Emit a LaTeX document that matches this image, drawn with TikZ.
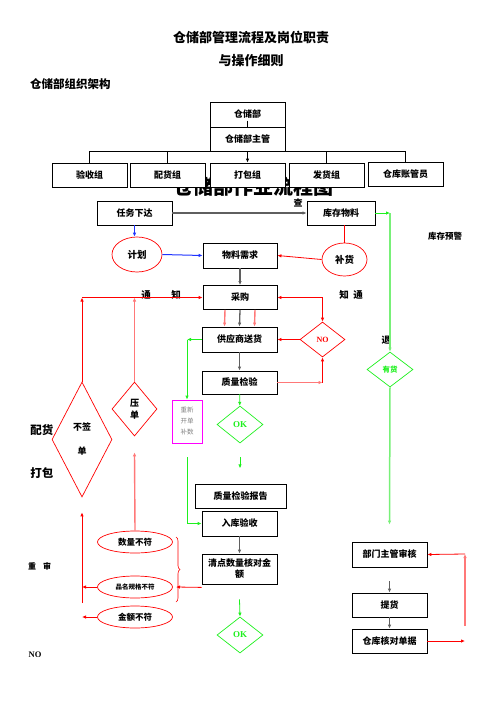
\documentclass[tikz,border=0pt]{standalone}
\usepackage{fontspec}
\setmainfont{Noto Sans CJK SC}
\newfontfamily\latinserif{Liberation Serif}
\usepackage{xcolor}
\usepackage{tikz}
\definecolor{flowred}{RGB}{255,0,0}
\definecolor{flowpink}{RGB}{255,120,120}
\definecolor{flowgreen}{RGB}{30,240,30}
\definecolor{stockgreen}{RGB}{120,240,120}
\definecolor{flowgray}{RGB}{95,95,95}
\definecolor{flowblue}{RGB}{30,50,255}
\definecolor{flowmagenta}{RGB}{255,0,255}
\usetikzlibrary{shapes.geometric,arrows.meta,decorations.pathreplacing}

\tikzset{
  >={Latex[length=4pt,width=3.5pt]},
  box/.style={draw, line width=0.8pt, fill=white, minimum width=75pt, minimum height=24pt,
    inner sep=0pt, font=\bfseries\fontsize{9}{11}\selectfont},
  oval/.style={ellipse, draw=flowred, line width=0.7pt, fill=white, minimum width=75pt,
    minimum height=22pt, inner sep=0pt, font=\bfseries\fontsize{8.5}{10}\selectfont},
  choice/.style={diamond, line width=0.7pt, inner sep=0pt, align=center},
  note/.style={font=\bfseries\fontsize{9}{11}\selectfont, inner sep=0pt},
  redline/.style={flowred, line width=0.8pt},
  pinkline/.style={flowpink, line width=1.4pt},
  greenline/.style={flowgreen, line width=0.8pt},
  grayline/.style={flowgray, line width=1.3pt},
  blueline/.style={flowblue, line width=1pt},
}

\begin{document}
\begin{tikzpicture}[x=1pt,y=-1pt]
    \useasboundingbox (0,0) rectangle (496,702);

    % Titles
    \node[note, font=\bfseries\fontsize{13}{15}\selectfont] (title) at (251,37) {仓储部管理流程及岗位职责};
    \node[note, font=\bfseries\fontsize{13}{15}\selectfont] (subtitle) at (251,61) {与操作细则};
    \node[note, anchor=west, font=\bfseries\fontsize{11.5}{13}\selectfont] (orgtitle) at (30,84) {仓储部组织架构};

    % Flow title, mostly hidden behind the group boxes
    \node[note, font=\bfseries\fontsize{20}{22}\selectfont] (flowtitle) at (253,187) {仓储部作业流程图};

    % Organisation chart
    \node[box, minimum height=25pt] (dept) at (247.5,114.5) {仓储部};
    \node[box] (head) at (247.5,139) {仓储部主管};
    \node[box] (recv) at (89.5,175) {验收组};
    \node[box] (pickgrp) at (167.5,175) {配货组};
    \node[box] (pack) at (247.5,175) {打包组};
    \node[box] (ship) at (326.5,175) {发货组};
    \node[box] (clerk) at (405.5,174) {仓库账管员};

    \draw[line width=0.8pt] ([yshift=-6pt]dept.center) -- (dept.south);
    \draw[line width=0.8pt] (recv.north |- head.south) -- (clerk.north |- head.south);
    \foreach \g in {recv,pickgrp,ship,clerk} {
        \draw[line width=0.8pt] (\g.north |- head.south) -- (\g.north);
    }
    \draw[line width=0.8pt, ->] (head.south) -- (pack.north);

    % Flow boxes
    \node[box] (task) at (134.5,213) {任务下达};
    \node[box, minimum width=68pt] (stock) at (341,213) {库存物料};
    \node[box, minimum width=74pt, minimum height=25pt] (need) at (240,255.5) {物料需求};
    \node[box, minimum width=74pt] (buy) at (240,297.5) {采购};
    \node[box, minimum height=25pt] (supply) at (239.5,339.5) {供应商送货};
    \node[box, minimum height=23pt] (qc) at (239.5,382.5) {质量检验};
    \node[box, minimum width=91pt] (report) at (240.5,496) {质量检验报告};
    \node[box, minimum height=25pt] (inbound) at (239.5,523.5) {入库验收};
    \node[box, minimum height=30pt, align=center] (count) at (239.5,569) {清点数量核对金\\额};
    \node[box, minimum height=25pt] (review) at (389.5,554.5) {部门主管审核};
    \node[box] (pickup) at (389.5,605) {提货};
    \node[box] (check) at (389.5,641) {仓库核对单据};

    % Ovals
    \node[oval, minimum width=50pt, minimum height=35pt, font=\bfseries\fontsize{9.5}{11}\selectfont] (plan) at (137,254.5) {计划};
    \node[oval, minimum width=45pt, minimum height=33pt, font=\bfseries\fontsize{9.5}{11}\selectfont] (refill) at (344.5,259.5) {补货};
    \node[oval] (qty) at (135,542) {数量不符};
    \node[oval, font=\bfseries\fontsize{6.5}{8}\selectfont] (spec) at (135,587) {品名规格不符};
    \node[oval] (amount) at (135,617) {金额不符};

    % Decisions
    \node[choice, draw=flowred, minimum width=60pt, minimum height=115pt, aspect=0.52,
        font=\bfseries\fontsize{9}{11}\selectfont] (nosign) at (82,439.5) {不签\\[13pt]单};
    \node[choice, draw=flowred, minimum width=45pt, minimum height=54pt, aspect=0.83,
        font=\bfseries\fontsize{9}{12}\selectfont] (hold) at (134.5,409) {压\\单};
    \node[choice, draw=flowred, text=flowred, minimum width=45pt, minimum height=35pt, aspect=1.29,
        font=\latinserif\bfseries\fontsize{8}{10}\selectfont] (nobox) at (322.5,339.5) {NO};
    \node[choice, draw=flowgreen, text=flowgreen, minimum width=46pt, minimum height=35pt, aspect=1.31,
        font=\bfseries\fontsize{7.5}{9}\selectfont] (have) at (390,369.5) {有货};
    \node[choice, draw=flowgreen, text=flowgreen, minimum width=46pt, minimum height=37pt, aspect=1.24,
        font=\latinserif\bfseries\fontsize{9}{11}\selectfont] (okqc) at (240,424.5) {OK};
    \node[choice, draw=flowgreen, text=flowgreen, minimum width=46pt, minimum height=36pt, aspect=1.28,
        font=\latinserif\bfseries\fontsize{9}{11}\selectfont] (okcount) at (240,635) {OK};

    % Reissue note
    \node[draw=flowmagenta, line width=0.8pt, minimum width=30pt, minimum height=43pt, inner sep=0pt,
        align=center, text=gray, font=\fontsize{6.5}{11}\selectfont] (reissue) at (187,421.5) {重新\\开单\\补数};

    % Side texts
    \node[note] (query) at (298,203) {查};
    \node[note, font=\bfseries\fontsize{8.5}{10}\selectfont] (warn) at (445,236) {库存预警};
    \node[note, font=\bfseries\fontsize{9.5}{11}\selectfont] (tong1) at (146,295) {通};
    \node[note, font=\bfseries\fontsize{9.5}{11}\selectfont] (zhi1) at (176,295) {知};
    \node[note, font=\bfseries\fontsize{9.5}{11}\selectfont] (zhi2) at (344,295) {知};
    \node[note, font=\bfseries\fontsize{9.5}{11}\selectfont] (tong2) at (358,295) {通};
    \node[note] (back) at (386,340) {退};
    \node[note, font=\bfseries\fontsize{11.5}{13}\selectfont] (peihuo) at (42,430) {配货};
    \node[note, font=\bfseries\fontsize{11.5}{13}\selectfont] (dabao) at (42,473) {打包};
    \node[note, font=\bfseries\fontsize{8}{10}\selectfont] (chong) at (32,566) {重};
    \node[note, font=\bfseries\fontsize{8}{10}\selectfont] (shen) at (47,566) {审};
    \node[note, font=\latinserif\bfseries\fontsize{8.5}{10}\selectfont] (nolabel) at (35,655) {NO};

    % Free ends
    \coordinate (redfoot) at (82,603);
    \coordinate (bracept) at (176,587);
    \coordinate (loopbot) at (465,626);
    \coordinate (looptop) at (465,554);

    % Top of the flow
    \draw[grayline, ->] (task) -- (stock);
    \draw[blueline, ->] (task.south) -- (task.south |- plan.north);
    \draw[blueline, ->] (plan.east) -- (need.west);
    \draw[redline] (refill.north |- stock.south) -- (refill.north);
    \draw[redline, ->] (refill.west) -- (need.east);
    \draw[grayline, ->] (need) -- (buy);

    % Stock check on the right
    \draw[flowgreen, line width=1pt, ->] (stock.east) -- (have.north |- stock.east);
    \draw[stockgreen, line width=1.5pt, ->] (have.north |- stock.east) -- (have.north);
    \draw[stockgreen, line width=1.5pt, ->] (have.south) -- ([yshift=17pt]review.north);

    % Purchase and delivery
    \foreach \dx/\c in {-15/pinkline, 0/grayline, 15/pinkline} {
        \draw[\c, ->] ([xshift=\dx pt]buy.south) -- ([xshift=\dx pt]supply.north);
    }
    \draw[grayline, ->] (supply) -- (qc);
    \draw[greenline, ->] (qc) -- (okqc);
    \draw[greenline, ->] ([yshift=-14pt]okqc.south) -- ([yshift=-25pt]okqc.south);

    % Failed check
    \draw[pinkline, ->] (qc.east) -- (nobox.south |- qc.east);
    \draw[redline, ->] (nobox.south |- qc.east) -- (nobox.south);
    \draw[redline, ->] (nobox.west) -- (supply.east);
    \draw[redline, <->] (nobox.north) |- (buy.east);

    % Reissue path
    \draw[greenline, ->] (supply.west) -- (reissue.north |- supply.west);
    \draw[greenline, ->] (reissue.north |- supply.west) -- (reissue.north);
    \draw[greenline, ->] ([yshift=-14pt]reissue.south) |- (inbound.west);

    % Notice back to purchase
    \draw[redline, ->] (nosign.north) -- (nosign.north |- buy.west);
    \draw[redline, ->] (nosign.north |- buy.west) -- (buy.west);
    \draw[pinkline, ->] (hold.north) -- (hold.north |- buy.west);

    % Receiving
    \draw[grayline, ->] (inbound) -- (count);
    \draw[greenline, ->] ([yshift=-15pt]count.south) -- (okcount.north);
    \draw[redline, ->] ([yshift=-3pt]count.south west) -- (bracept);
    \draw[flowred, line width=0.6pt, decorate, decoration={brace, amplitude=4pt}] (176,537) -- (176,602);

    % Mismatches
    \draw[pinkline, ->] (qty.north) -- ([yshift=-16pt]hold.south);
    \draw[redline, ->] (redfoot) -- ([yshift=-15pt]nosign.south);
    \draw[redline, ->] (spec.west) -- (spec.west -| redfoot);
    \draw[redline, ->] (amount.west) -- (amount.west -| redfoot);

    % Pickup loop
    \draw[grayline, ->] ([yshift=-14pt]review.south) -- (pickup.north);
    \draw[grayline, ->] (pickup) -- (check);
    \draw[redline, ->] (check.east) -- (check.east -| loopbot);
    \draw[pinkline, ->] (loopbot) -- (looptop);
    \draw[redline, ->] (looptop) -- (review.east);
\end{tikzpicture}
\end{document}
